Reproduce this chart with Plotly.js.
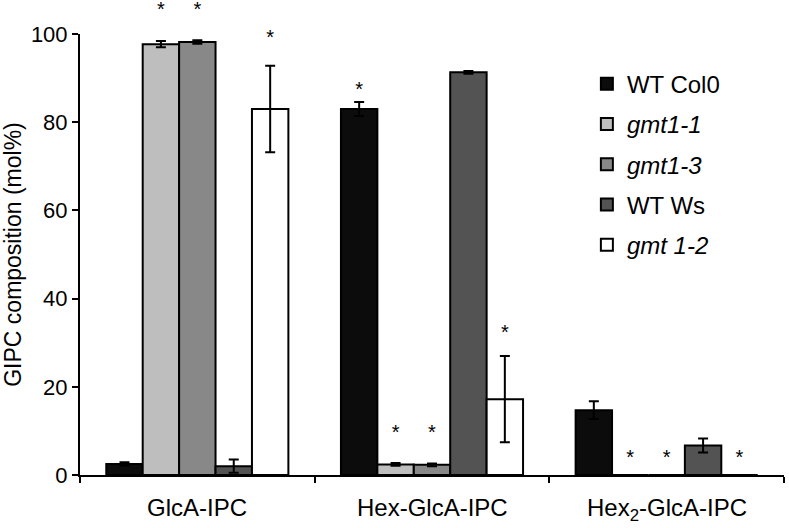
<!DOCTYPE html>
<html>
<head>
<meta charset="utf-8">
<script src="https://cdn.plot.ly/plotly-3.0.1.min.js"></script>
<style>html,body{margin:0;padding:0;background:#fff;}</style>
</head>
<body>
<div id="chart" style="width:789px;height:528px;"></div>
<script>
// categories on the x axis
const categories = ['GlcA-IPC', 'Hex-GlcA-IPC', 'Hex<sub>2</sub>-GlcA-IPC'];
const catPos = [0, 1, 2];

// series (mol%) and their error bars
const seriesNames = ['WT Col0', '<i>gmt1-1</i>', '<i>gmt1-3</i>', 'WT Ws', '<i>gmt 1-2</i>'];
const wtCol0 = [2.5, 83.0, 14.7];
const wtCol0Err = [0.4, 1.6, 2.0];
const gmt11 = [97.7, 2.4, 0];
const gmt11Err = [0.7, 0.3, null];
const gmt13 = [98.2, 2.3, 0];
const gmt13Err = [0.4, 0.3, null];
const wtWs = [2.0, 91.3, 6.7];
const wtWsErr = [1.5, 0.3, 1.6];
const gmt12 = [83.0, 17.2, 0];
const gmt12Err = [9.8, 9.8, null];

// significance asterisks: category index, series index, height of the text anchor
const starCat = [0, 0, 0, 1, 1, 1, 1, 2, 2, 2];
const starSeries = [1, 2, 4, 0, 1, 2, 4, 1, 2, 4];
const starY = [105.2, 105.2, 98.8, 87.1, 9.3, 9.3, 31.9, 3.7, 3.7, 3.7];

const colors = ['#0c0c0c', '#bebebe', '#888888', '#535353', '#ffffff'];
const values = [wtCol0, gmt11, gmt13, wtWs, gmt12];
const errors = [wtCol0Err, gmt11Err, gmt13Err, wtWsErr, gmt12Err];

const font = 'Liberation Sans, Arial, sans-serif';
const bargap = 0.224;
const barW = (1 - bargap) / seriesNames.length;

// plot area: 475 px tall, the visible axis uses the lower 441 px (0..100)
const yTop = 441 / 475;

const traces = seriesNames.map((name, i) => ({
    type: 'bar',
    name: name,
    legendgroup: 'g' + i,
    x: catPos,
    y: values[i],
    marker: {color: colors[i], line: {color: '#000', width: 2}},
    error_y: {type: 'data', array: errors[i], visible: true, color: '#000', thickness: 2, width: 5}
}));

// asterisks on a hidden taller axis with the same scale, so the ones above 100 still show
traces.push({
    type: 'scatter',
    mode: 'text',
    x: starCat.map((c, k) => c + (starSeries[k] - 2) * barW),
    y: starY,
    yaxis: 'y2',
    text: starY.map(() => '*'),
    textposition: 'middle center',
    textfont: {family: font, size: 20, color: '#000'},
    showlegend: false,
    hoverinfo: 'skip'
});

// category labels centred between the ticks
const annotations = categories.map((cat, i) => ({
    x: catPos[i], y: 0,
    xref: 'x', yref: 'paper',
    yanchor: 'top',
    yshift: -17,
    text: cat,
    showarrow: false,
    font: {family: font, size: 24, color: '#000'}
}));

const layout = {
    width: 789,
    height: 528,
    margin: {l: 80, r: 5, t: 0, b: 53},
    paper_bgcolor: '#fff',
    plot_bgcolor: 'rgba(0,0,0,0)',
    barmode: 'group',
    bargap: bargap,
    bargroupgap: 0,
    showlegend: true,
    legend: {
        x: 0.72, y: 0.87, xanchor: 'left', yanchor: 'top',
        font: {family: font, size: 24, color: '#000'},
        tracegroupgap: 6,
        bgcolor: 'rgba(0,0,0,0)'
    },
    xaxis: {
        range: [-0.5, 2.5],
        tickvals: [-0.5, 0.5, 1.5, 2.5],
        showticklabels: false,
        ticks: 'outside', ticklen: 6, tickwidth: 2, tickcolor: '#000',
        showline: true, linewidth: 2, linecolor: '#000',
        showgrid: false, zeroline: false
    },
    yaxis: {
        domain: [0, yTop],
        range: [0, 100],
        tickvals: [0, 20, 40, 60, 80, 100],
        ticks: 'outside', ticklen: 6, tickwidth: 2, tickcolor: '#000',
        showline: true, linewidth: 2, linecolor: '#000',
        showgrid: false, zeroline: false,
        tickfont: {family: font, size: 22, color: '#000'},
        title: {text: 'GIPC composition (mol%)', font: {family: font, size: 23, color: '#000'}, standoff: 8}
    },
    yaxis2: {
        domain: [0, 1],
        range: [0, 100 / yTop],
        anchor: 'x',
        visible: false,
        showgrid: false, zeroline: false
    },
    annotations: annotations
};

Plotly.newPlot('chart', traces, layout, {displayModeBar: false, staticPlot: true});
</script>
</body>
</html>
